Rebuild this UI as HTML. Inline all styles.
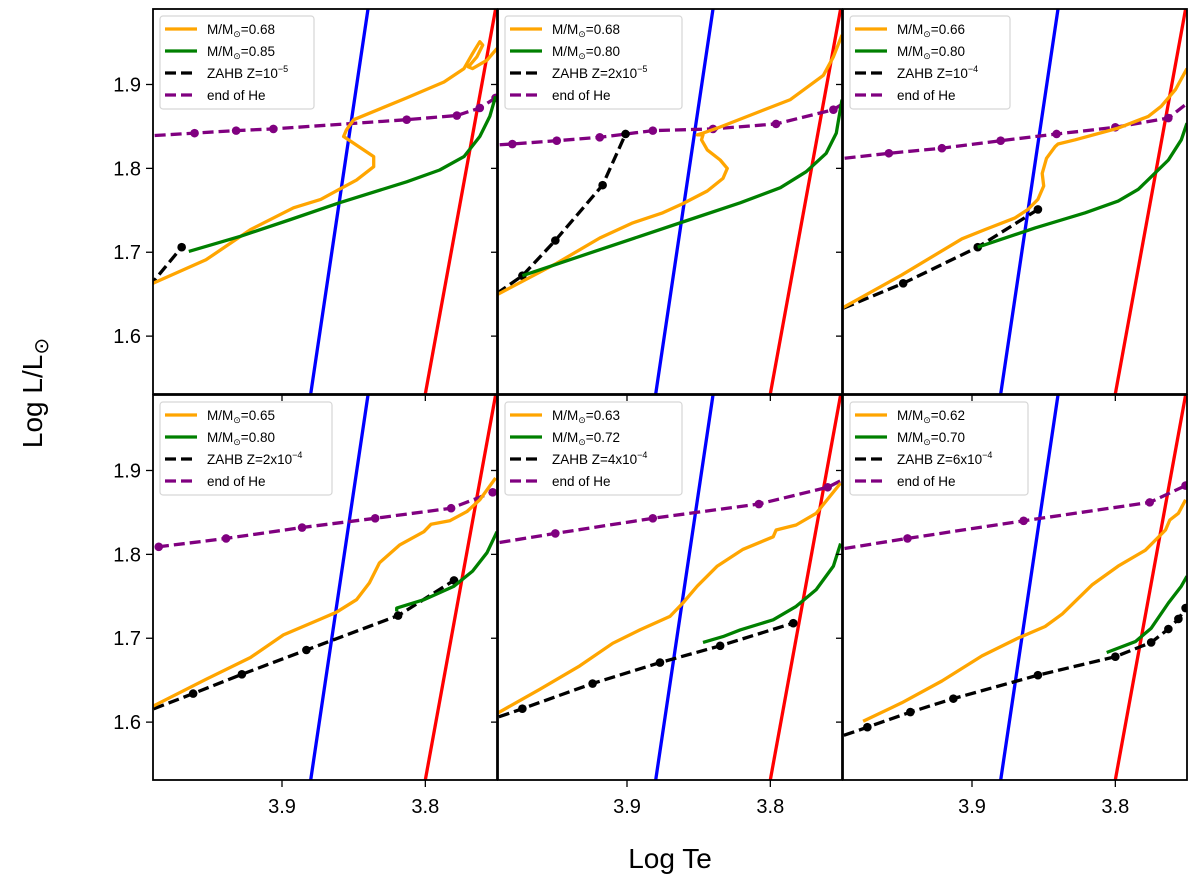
<!DOCTYPE html>
<html><head><meta charset="utf-8"><style>
body{margin:0;background:#fff}
svg{display:block;font-family:"Liberation Sans","DejaVu Sans",sans-serif}
</style></head><body>
<svg id="chart" width="1200" height="879" viewBox="0 0 1200 879" xmlns="http://www.w3.org/2000/svg">
<text x="670" y="868" font-size="28" text-anchor="middle">Log Te</text>
<text transform="translate(42,393) rotate(-90)" font-size="28" text-anchor="middle">Log L/L<tspan font-size="20" dy="6">⊙</tspan></text>
</svg>
<script>
const xTicks=[3.9,3.8];
const yTicks=[1.9,1.8,1.7,1.6];
const blueT=[3.880,3.840], blueL=[1.531,1.99];
const redT=[3.800,3.751], redL=[1.531,1.99];
const massOrange=["0.68","0.68","0.66","0.65","0.63","0.62"];
const massGreen=["0.85","0.80","0.80","0.80","0.72","0.70"];
const zahbLabels=["10","2x10","10","2x10","4x10","6x10"];
const zahbExp=["−5","−5","−4","−4","−4","−4"];
// panel 1
const p1OrT=[4.00,3.990,3.953,3.922,3.892,3.873,3.860,3.848,3.836,3.836,3.850,3.857,3.855,3.850,3.813,3.787,3.773,3.767,3.762,3.760,3.764,3.770,3.767,3.757,3.750];
const p1OrL=[1.655,1.663,1.691,1.727,1.753,1.763,1.775,1.786,1.802,1.814,1.830,1.838,1.846,1.858,1.884,1.903,1.919,1.937,1.951,1.947,1.933,1.921,1.919,1.929,1.943];
const p1GrT=[3.965,3.929,3.894,3.860,3.813,3.790,3.773,3.762,3.755,3.751];
const p1GrL=[1.701,1.719,1.739,1.759,1.784,1.798,1.814,1.838,1.862,1.886];
const p1BkT=[4.00,3.970], p1BkL=[1.644,1.706];
const p1PuT=[4.00,3.961,3.932,3.906,3.813,3.778,3.762,3.751];
const p1PuL=[1.838,1.842,1.845,1.847,1.858,1.863,1.872,1.884];
// panel 2
const p2OrT=[4.00,3.990,3.949,3.919,3.896,3.875,3.861,3.844,3.833,3.830,3.835,3.844,3.848,3.847,3.851,3.847,3.837,3.810,3.786,3.763,3.756,3.750];
const p2OrL=[1.643,1.650,1.687,1.717,1.735,1.747,1.758,1.773,1.788,1.800,1.810,1.822,1.834,1.840,1.840,1.842,1.848,1.866,1.882,1.911,1.933,1.959];
const p2GrT=[3.973,3.926,3.891,3.856,3.821,3.793,3.775,3.761,3.754,3.750];
const p2GrL=[1.672,1.699,1.719,1.739,1.759,1.777,1.796,1.818,1.842,1.882];
const p2BkT=[4.00,3.973,3.950,3.917,3.901], p2BkL=[1.640,1.672,1.714,1.780,1.841];
const p2PuT=[4.00,3.980,3.949,3.919,3.882,3.840,3.796,3.756,3.745];
const p2PuL=[1.827,1.829,1.833,1.837,1.845,1.847,1.853,1.870,1.882];
// panel 3
const p3OrT=[4.00,3.990,3.949,3.907,3.891,3.870,3.861,3.854,3.850,3.851,3.848,3.842,3.840,3.828,3.798,3.777,3.768,3.758,3.750];
const p3OrL=[1.628,1.634,1.673,1.716,1.727,1.741,1.751,1.763,1.779,1.794,1.812,1.826,1.829,1.834,1.848,1.862,1.874,1.894,1.919];
const p3GrT=[3.896,3.856,3.821,3.798,3.784,3.775,3.763,3.754,3.750];
const p3GrL=[1.706,1.729,1.747,1.761,1.775,1.790,1.810,1.834,1.854];
const p3BkT=[4.00,3.948,3.896,3.854], p3BkL=[1.626,1.663,1.706,1.751];
const p3PuT=[4.00,3.958,3.921,3.880,3.841,3.800,3.763,3.745];
const p3PuL=[1.810,1.818,1.824,1.833,1.841,1.849,1.860,1.884];
// panel 4
const p4OrT=[4.00,3.990,3.953,3.922,3.899,3.873,3.862,3.848,3.839,3.832,3.818,3.801,3.796,3.783,3.771,3.762,3.751];
const p4OrL=[1.614,1.619,1.651,1.677,1.704,1.723,1.731,1.746,1.766,1.790,1.811,1.827,1.836,1.840,1.851,1.865,1.891];
const p4GrT=[3.820,3.820,3.801,3.780,3.767,3.757,3.750];
const p4GrL=[1.732,1.736,1.746,1.762,1.780,1.802,1.827];
const p4BkT=[4.00,3.962,3.928,3.883,3.819,3.780], p4BkL=[1.609,1.634,1.657,1.686,1.727,1.769];
const p4PuT=[4.02,3.986,3.939,3.886,3.835,3.782,3.753];
const p4PuL=[1.806,1.809,1.819,1.832,1.843,1.855,1.874];
// panel 5
const p5OrT=[4.00,3.990,3.961,3.933,3.910,3.891,3.870,3.861,3.851,3.837,3.819,3.798,3.796,3.782,3.768,3.751];
const p5OrL=[1.605,1.611,1.639,1.667,1.694,1.710,1.726,1.742,1.762,1.786,1.806,1.821,1.829,1.835,1.849,1.885];
const p5GrT=[3.847,3.833,3.821,3.798,3.782,3.768,3.756,3.751];
const p5GrL=[1.695,1.702,1.710,1.722,1.738,1.758,1.786,1.813];
const p5BkT=[4.00,3.973,3.924,3.877,3.835,3.784], p5BkL=[1.600,1.616,1.646,1.671,1.691,1.718];
const p5PuT=[4.00,3.950,3.882,3.808,3.760,3.745];
const p5PuL=[1.811,1.825,1.843,1.860,1.880,1.893];
// panel 6
const p6OrT=[3.976,3.949,3.921,3.893,3.868,3.849,3.837,3.816,3.798,3.779,3.765,3.762,3.756,3.751];
const p6OrL=[1.601,1.623,1.649,1.679,1.700,1.714,1.729,1.764,1.786,1.805,1.829,1.841,1.849,1.865];
const p6GrT=[3.806,3.786,3.775,3.763,3.754,3.750];
const p6GrL=[1.683,1.696,1.712,1.742,1.762,1.774];
const p6BkT=[4.00,3.973,3.943,3.913,3.854,3.800,3.775,3.763,3.756,3.751];
const p6BkL=[1.578,1.594,1.612,1.628,1.656,1.678,1.695,1.711,1.723,1.736];
const p6PuT=[4.00,3.945,3.864,3.776,3.751];
const p6PuL=[1.804,1.819,1.840,1.862,1.882];

const panels=[
 {or:[p1OrT,p1OrL],gr:[p1GrT,p1GrL],bk:[p1BkT,p1BkL],pu:[p1PuT,p1PuL]},
 {or:[p2OrT,p2OrL],gr:[p2GrT,p2GrL],bk:[p2BkT,p2BkL],pu:[p2PuT,p2PuL]},
 {or:[p3OrT,p3OrL],gr:[p3GrT,p3GrL],bk:[p3BkT,p3BkL],pu:[p3PuT,p3PuL]},
 {or:[p4OrT,p4OrL],gr:[p4GrT,p4GrL],bk:[p4BkT,p4BkL],pu:[p4PuT,p4PuL]},
 {or:[p5OrT,p5OrL],gr:[p5GrT,p5GrL],bk:[p5BkT,p5BkL],pu:[p5PuT,p5PuL]},
 {or:[p6OrT,p6OrL],gr:[p6GrT,p6GrL],bk:[p6BkT,p6BkL],pu:[p6PuT,p6PuL]}
];
const lefts=[153,498,843], tops=[9,395], PW=344, PH=385;
const legW=[154,177,160,172,177,178];
const T0=3.99,T1=3.75,L0=1.531,L1=1.99;
const NS="http://www.w3.org/2000/svg";
const svg=document.getElementById('chart');
function mk(tag,attrs,parent){const e=document.createElementNS(NS,tag);for(const k in attrs)e.setAttribute(k,attrs[k]);(parent||svg).appendChild(e);return e;}

panels.forEach((p,i)=>{
  const left=lefts[i%3], top=tops[Math.floor(i/3)];
  const xs=t=>left+(T0-t)/(T0-T1)*PW;
  const ys=l=>top+(L1-l)/(L1-L0)*PH;
  const g=mk('g',{});
  
  
  const cp=mk('clipPath',{id:'cp'+i},g);
  mk('rect',{x:left,y:top,width:PW,height:PH},cp);
  const plot=mk('g',{'clip-path':'url(#cp'+i+')'},g);
  function line(T,L,color,dash,name){
    const d=T.map((t,k)=>(k?'L':'M')+xs(t).toFixed(1)+','+ys(L[k]).toFixed(1)).join('');
    const el=mk('path',{d:d,fill:'none',stroke:color,'stroke-width':3.3,'stroke-linejoin':'round'},plot);
    if(dash)el.setAttribute('stroke-dasharray',dash);
    
    
  }
  function dots(T,L,color,name){
    T.forEach((t,k)=>{
      const c=mk('circle',{cx:xs(t),cy:ys(L[k]),r:4.3,fill:color},plot);
      
      
    });
  }
  line(blueT,blueL,'#0000ff',null,'blue-edge-line');
  line(redT,redL,'#ff0000',null,'red-edge-line');
  line(p.pu[0],p.pu[1],'#800080','11 5','end-of-he-line');
  dots(p.pu[0],p.pu[1],'#800080','end-of-he-point');
  line(p.bk[0],p.bk[1],'#000','11 5','zahb-line');
  dots(p.bk[0],p.bk[1],'#000','zahb-point');
  line(p.or[0],p.or[1],'#ffa500',null,'orange-track');
  line(p.gr[0],p.gr[1],'#008000',null,'green-track');
  const fr=mk('rect',{x:left,y:top,width:PW,height:PH,fill:'none',stroke:'#000','stroke-width':1.8},g);
  
  
  yTicks.forEach(v=>{
    mk('line',{x1:left-7,x2:left,y1:ys(v),y2:ys(v),stroke:'#000','stroke-width':1.3},g);
    if(i%3===0){
      const t=mk('text',{x:left-12,y:ys(v)+7,'font-size':20,'text-anchor':'end'},g);
      t.textContent=v.toFixed(1);
      
      
    }
  });
  xTicks.forEach(v=>{
    mk('line',{x1:xs(v),x2:xs(v),y1:top+PH,y2:top+PH+7,stroke:'#000','stroke-width':1.3},g);
    if(i>=3){
      const t=mk('text',{x:xs(v),y:top+PH+33,'font-size':20,'text-anchor':'middle'},g);
      t.textContent=v.toFixed(1);
      
      
    }
  });
  const lg=mk('g',{},g);
  
  
  mk('rect',{x:left+7,y:top+7,width:legW[i],height:93,rx:3,fill:'#fff','fill-opacity':0.85,stroke:'#d6d6d6','stroke-width':1.2},lg);
  const rows=[['#ffa500',null],['#008000',null],['#000','11 5'],['#800080','11 5']];
  rows.forEach((r,k)=>{
    const yy=top+20+k*22;
    const ln=mk('line',{x1:left+12,x2:left+44,y1:yy,y2:yy,stroke:r[0],'stroke-width':3.3},lg);
    if(r[1])ln.setAttribute('stroke-dasharray',r[1]);
    const t=mk('text',{x:left+54,y:yy+5,'font-size':13.5},lg);
    if(k<2){
      t.innerHTML='M/M<tspan font-size="9" dy="3">⊙</tspan><tspan dy="-3">=</tspan>'+(k===0?massOrange[i]:massGreen[i]);
    }else if(k===2){
      t.innerHTML='ZAHB Z='+zahbLabels[i]+'<tspan font-size="9" dy="-6">'+zahbExp[i]+'</tspan>';
    }else t.textContent='end of He';
    
    
  });
});
</script>
</body></html>
